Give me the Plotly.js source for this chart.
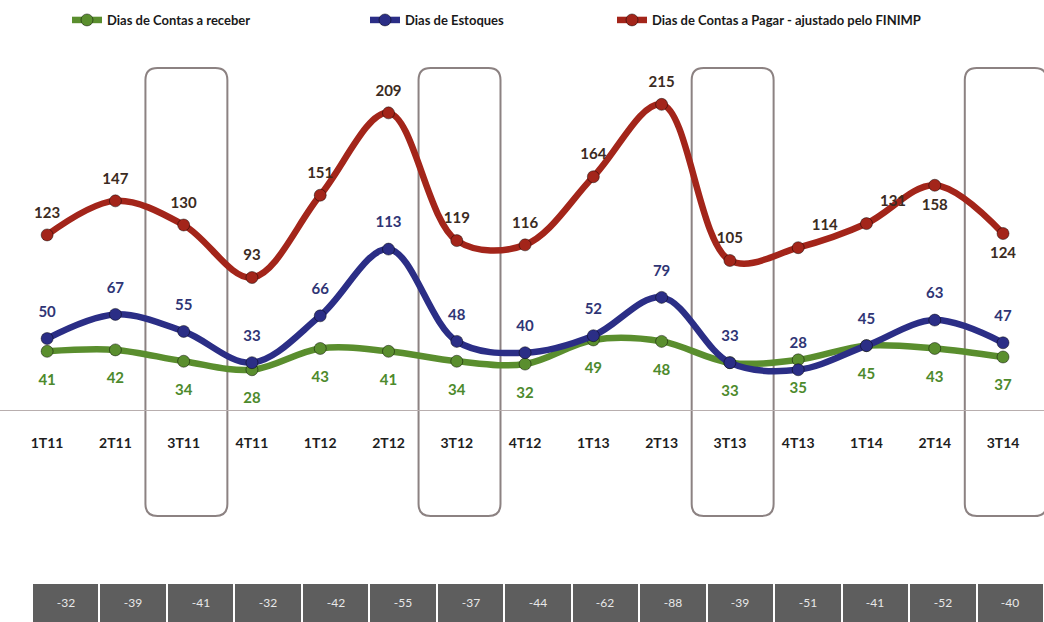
<!DOCTYPE html>
<html>
<head>
<meta charset="utf-8">
<script src="https://cdn.plot.ly/plotly-3.0.1.min.js"></script>
<style>html,body{margin:0;padding:0;background:#fff;}#chart{width:1044px;height:622px;}</style>
</head>
<body>
<div id="chart"></div>
<script>
const categorias = ['1T11','2T11','3T11','4T11','1T12','2T12','3T12','4T12','1T13','2T13','3T13','4T13','1T14','2T14','3T14'];
const receber = [41, 42, 34, 28, 43, 41, 34, 32, 49, 48, 33, 35, 45, 43, 37];
const estoques = [50, 67, 55, 33, 66, 113, 48, 40, 52, 79, 33, 28, 45, 63, 47];
const pagar = [123, 147, 130, 93, 151, 209, 119, 116, 164, 215, 105, 114, 131, 158, 124];
const saldo = [-32, -39, -41, -32, -42, -55, -37, -44, -62, -88, -39, -51, -41, -52, -40];
const destaques = ['3T11', '3T12', '3T13', '3T14'];
const nomes = ['Dias de Contas a receber', 'Dias de Estoques', 'Dias de Contas a Pagar - ajustado pelo FINIMP'];

const W = 1044, H = 622;
const FONT = 'Lato, "Open Sans", "DejaVu Sans", sans-serif';
const xr = [-0.69, 14.6];
const cGreen = '#5a8e2e', cBlue = '#2b2e86', cRed = '#a3251a';

const posPagar = ['top center','top center','top center','top center','top center','top center','top center','top center','top center','top center','top center','top right','top right','bottom center','bottom center'];

function lineTrace(y, color, name, leg) {
  return {
    x: categorias, y: y, type: 'scatter', mode: 'lines+markers', name: name, legend: leg,
    line: {color: color, width: 6.5, shape: 'spline', smoothing: 1},
    marker: {size: 12, color: color, line: {color: 'rgba(0,0,0,0.45)', width: 1}},
    cliponaxis: false, hoverinfo: 'skip'
  };
}
function textTrace(y, color, pos, gap) {
  return {
    x: categorias, y: y, type: 'scatter', mode: 'markers+text', showlegend: false,
    marker: {size: gap, opacity: 0, color: color},
    text: y.map(String), textposition: pos,
    textfont: {family: FONT, size: 15, color: color, weight: 'bold'},
    cliponaxis: false, hoverinfo: 'skip'
  };
}

const traces = [
  lineTrace(receber, cGreen, nomes[0], 'legend'),
  lineTrace(estoques, cBlue, nomes[1], 'legend2'),
  lineTrace(pagar, cRed, nomes[2], 'legend3'),
  textTrace(receber, '#4d8a2c', 'bottom center', 34),
  textTrace(estoques, '#2f3575', 'top center', 27),
  textTrace(pagar, '#3b2b22', posPagar, 20),
  {
    type: 'heatmap', xaxis: 'x2', yaxis: 'y2',
    x: categorias, y: ['saldo'], z: [saldo],
    text: [saldo.map(String)],
    colorscale: [[0, '#5e5e5e'], [1, '#5e5e5e']], showscale: false,
    xgap: 2, ygap: 0,
    texttemplate: '%{text}',
    textfont: {family: FONT, size: 12, color: '#e8e8e8'},
    hoverinfo: 'skip'
  }
];

function px(i) { return (i - xr[0]) / (xr[1] - xr[0]); }
function roundRect(x0, x1, y0, y1, r) {
  const rx = r / W, ry = r / H;
  return `M ${x0 + rx},${y0} L ${x1 - rx},${y0} Q ${x1},${y0} ${x1},${y0 + ry} L ${x1},${y1 - ry} Q ${x1},${y1} ${x1 - rx},${y1} L ${x0 + rx},${y1} Q ${x0},${y1} ${x0},${y1 - ry} L ${x0},${y0 + ry} Q ${x0},${y0} ${x0 + rx},${y0} Z`;
}
const shapes = destaques.map(c => {
  const i = categorias.indexOf(c);
  return {
    type: 'path', xref: 'paper', yref: 'paper', layer: 'below',
    path: roundRect(px(i - 0.56), px(i + 0.64), 1 - 516 / H, 1 - 68 / H, 12),
    line: {color: '#8c8282', width: 2}
  };
});

function legendAt(xpx) {
  return {
    x: xpx / W, y: 1 - 20 / H, xanchor: 'left', yanchor: 'middle', orientation: 'h',
    bgcolor: 'rgba(0,0,0,0)', font: {family: FONT, size: 13, color: '#1a1a1a', weight: 'bold'},
    itemwidth: 30
  };
}

const layout = {
  width: W, height: H,
  margin: {l: 0, r: 0, t: 0, b: 0},
  paper_bgcolor: '#ffffff', plot_bgcolor: 'rgba(0,0,0,0)',
  showlegend: true,
  legend: legendAt(67),
  legend2: legendAt(365),
  legend3: legendAt(612),
  xaxis: {
    type: 'category', range: xr, domain: [0, 1],
    showline: true, linecolor: '#b8aeae', linewidth: 1.5,
    showgrid: false, zeroline: false,
    ticks: 'outside', ticklen: 20, tickcolor: 'rgba(0,0,0,0)',
    tickfont: {family: FONT, size: 14, color: '#1e1e1e', weight: 'bold'},
    fixedrange: true
  },
  yaxis: {
    range: [0, 253.3], domain: [1 - 409.5 / H, 1 - 50 / H],
    visible: false, showgrid: false, zeroline: false, fixedrange: true
  },
  xaxis2: {
    type: 'category', anchor: 'y2', domain: [32 / W, 1], range: [-0.5, 14.5],
    visible: false, fixedrange: true
  },
  yaxis2: {
    type: 'category', anchor: 'x2', domain: [0, 1 - 584 / H],
    visible: false, fixedrange: true
  },
  shapes: shapes
};

Plotly.newPlot('chart', traces, layout, {displayModeBar: false, staticPlot: true});
</script>
</body>
</html>
